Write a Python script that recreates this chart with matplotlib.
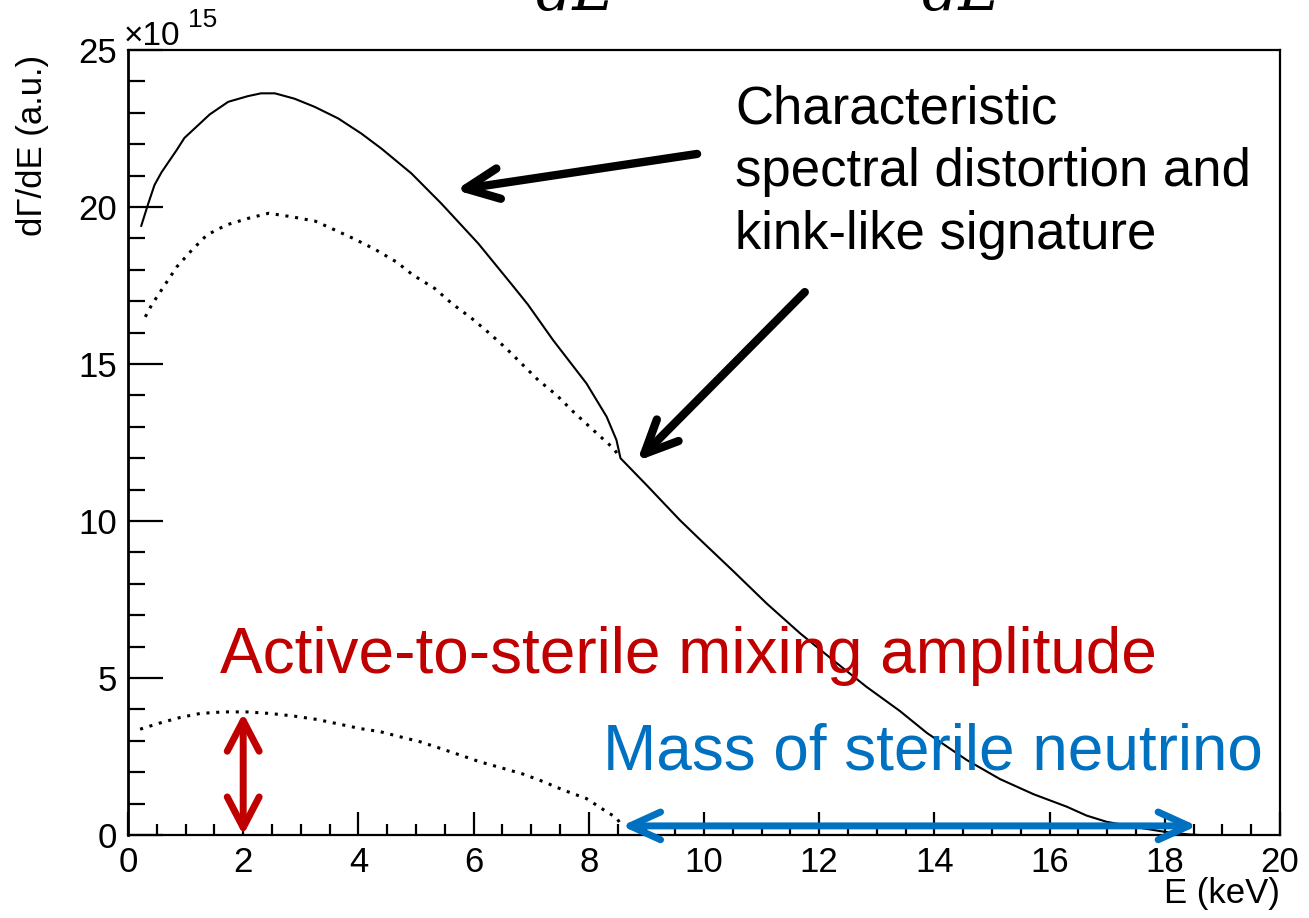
import matplotlib
matplotlib.use("Agg")
import matplotlib.pyplot as plt
from matplotlib.ticker import MultipleLocator, FuncFormatter

plt.rcParams["font.family"] = ["Liberation Sans", "DejaVu Sans"]

# Beta spectrum: total rate (solid), active branch and sterile branch (dotted), units of 1e15
energy_total = [0.23, 0.35, 0.46, 0.58, 0.84, 0.98, 1.42, 1.74, 2.08, 2.31, 2.55,
                2.89, 3.24, 3.65, 4.05, 4.40, 4.92, 5.44, 6.08, 6.65, 6.94, 7.38,
                7.96, 8.31, 8.48, 8.55, 9.00, 9.58, 9.93, 10.51, 11.09, 11.67,
                12.24, 12.82, 13.40, 13.87, 14.56, 15.14, 15.72, 16.30, 16.64,
                16.99, 17.50, 18.00, 18.40, 18.60]
rate_total = [19.4, 20.1, 20.7, 21.1, 21.8, 22.2, 22.95, 23.35, 23.53, 23.62, 23.62,
              23.45, 23.19, 22.82, 22.34, 21.86, 21.07, 20.11, 18.84, 17.56, 16.9,
              15.76, 14.38, 13.32, 12.58, 12.0, 11.15, 10.03, 9.41, 8.40, 7.37,
              6.42, 5.57, 4.72, 3.95, 3.25, 2.39, 1.78, 1.30, 0.90, 0.62, 0.42,
              0.25, 0.10, 0.02, 0.0]

energy_active = [0.30, 0.41, 0.64, 0.85, 1.11, 1.37, 1.71, 2.09, 2.44, 2.84, 3.25,
                 3.59, 3.91, 4.29, 4.66, 4.95, 5.33, 5.62, 5.97, 6.28, 6.57, 7.12,
                 7.44, 7.73, 8.14, 8.43, 8.55]
rate_active = [16.5, 16.88, 17.52, 18.1, 18.63, 19.11, 19.43, 19.64, 19.8, 19.69,
               19.55, 19.27, 19.0, 18.65, 18.25, 17.83, 17.4, 16.93, 16.45, 15.97,
               15.49, 14.49, 14.01, 13.48, 12.79, 12.31, 12.0]

energy_sterile = [0.21, 0.56, 0.90, 1.25, 1.65, 2.06, 2.47, 2.87, 3.28, 3.62, 4.03,
                  4.38, 4.72, 5.07, 5.42, 5.76, 6.11, 6.46, 6.86, 7.21, 7.56, 7.96,
                  8.31, 8.48, 8.57]
rate_sterile = [3.37, 3.57, 3.74, 3.87, 3.92, 3.92, 3.87, 3.79, 3.68, 3.55, 3.39,
                3.29, 3.13, 2.97, 2.76, 2.55, 2.33, 2.15, 1.94, 1.70, 1.43, 1.16,
                0.74, 0.55, 0.30]

# Annotation quantities
mixing_energy = 2.0
mixing_amplitude = 3.88
mass_band = (8.57, 18.56)
mass_band_level = 0.29

x_ticks = list(range(0, 21, 2))
y_ticks = [0, 5, 10, 15, 20, 25]

RED = "#C00000"
BLUE = "#0070C0"

W, H = 1309, 918
fig = plt.figure(figsize=(W / 100, H / 100), dpi=100)
ax = fig.add_axes([128 / W, (H - 835) / H, 1152 / W, 785 / H])


def px(x, y):
    """Figure pixel position (from top-left) to figure fraction."""
    return x / W, 1 - y / H


ax.plot(energy_total, rate_total, color="black", lw=1.5, solid_joinstyle="round")
ax.plot(energy_active, rate_active, color="black", lw=2.2, linestyle=(0, (1, 2.2)))
ax.plot(energy_sterile, rate_sterile, color="black", lw=2.2, linestyle=(0, (1, 2.2)))

ax.set_xlim(0, 20)
ax.set_ylim(0, 25)
ax.set_xticks(x_ticks)
ax.set_yticks(y_ticks)
ax.xaxis.set_minor_locator(MultipleLocator(0.5))
ax.yaxis.set_minor_locator(MultipleLocator(1))
ax.xaxis.set_major_formatter(FuncFormatter(lambda v, p: f"{v:g}"))
ax.yaxis.set_major_formatter(FuncFormatter(lambda v, p: f"{v:g}"))

ax.tick_params(axis="x", which="major", direction="in", length=16.5, width=1.6,
               labelsize=25, pad=8, top=False)
ax.tick_params(axis="x", which="minor", direction="in", length=8, width=1.6, top=False)
ax.tick_params(axis="y", which="major", direction="in", length=25, width=1.6,
               labelsize=25, pad=8, right=False)
ax.tick_params(axis="y", which="minor", direction="in", length=12.5, width=1.6, right=False)
for side in ax.spines.values():
    side.set_linewidth(1.6)
ax.spines["left"].set_linewidth(2.0)

# Axis titles and exponent
fig.text(*px(1280, 893), "E (keV)", ha="right", va="center", fontsize=25)
fig.text(*px(33, 55), "d\u0393/dE (a.u.)", rotation=90, ha="center", va="top", fontsize=25)
fig.text(*px(124, 45), "\u00d710", ha="left", va="baseline", fontsize=24)
fig.text(*px(188, 27), "15", ha="left", va="baseline", fontsize=19)

# Partially visible formula fragments at the top edge
fig.text(*px(536, 10), "dE", ha="left", va="baseline", fontsize=42,
         family="DejaVu Serif", style="italic")
fig.text(*px(922, 10), "dE", ha="left", va="baseline", fontsize=42,
         family="DejaVu Serif", style="italic")

# Black explanatory text and arrows
for text, base in [("Characteristic", 123), ("spectral distortion and", 186),
                   ("kink-like signature", 249)]:
    fig.text(*px(735, base), text, ha="left", va="baseline", fontsize=38)

arrow_black = dict(arrowstyle="->,head_length=24,head_width=11", lw=6, color="black",
                   shrinkA=0, shrinkB=0, mutation_scale=1, capstyle="round",
                   joinstyle="round")
ax.annotate("", xy=(5.69, 20.54), xytext=(9.88, 21.69), arrowprops=arrow_black)
ax.annotate("", xy=(8.84, 11.91), xytext=(11.75, 17.29), arrowprops=arrow_black)

# Mixing amplitude marker
fig.text(*px(220, 673), "Active-to-sterile mixing amplitude", ha="left", va="baseline",
         fontsize=46, color=RED)
ax.annotate("", xy=(mixing_energy, mixing_amplitude), xytext=(mixing_energy, 0),
            arrowprops=dict(arrowstyle="<->,head_length=22,head_width=11.5", lw=5,
                            color=RED, shrinkA=0, shrinkB=0, mutation_scale=1,
                            capstyle="round", joinstyle="round"),
            annotation_clip=False)

# Sterile mass marker
fig.text(*px(603, 770), "Mass of sterile neutrino", ha="left", va="baseline",
         fontsize=46, color=BLUE)
ax.annotate("", xy=(mass_band[1], mass_band_level), xytext=(mass_band[0], mass_band_level),
            arrowprops=dict(arrowstyle="<->,head_length=22,head_width=10", lw=5,
                            color=BLUE, shrinkA=0, shrinkB=0, mutation_scale=1,
                            capstyle="round", joinstyle="round"),
            annotation_clip=False)

fig.savefig("out.png", dpi=100, facecolor="white")
